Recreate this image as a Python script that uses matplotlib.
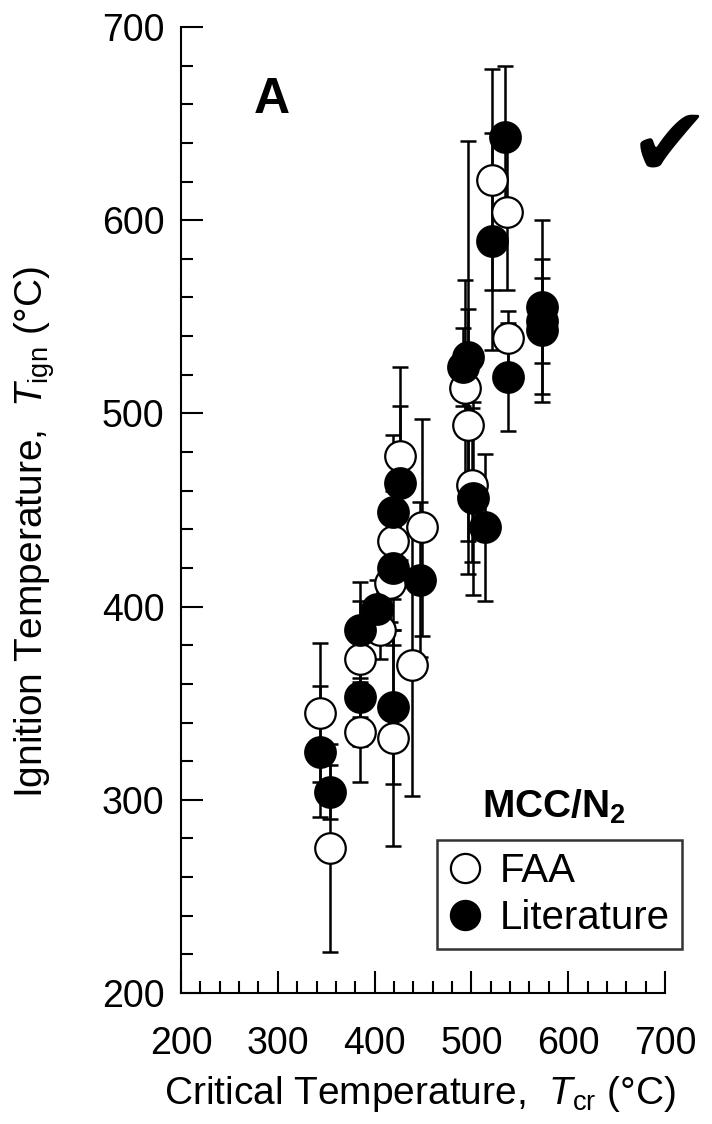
import matplotlib
matplotlib.use("Agg")
import matplotlib.pyplot as plt
from matplotlib.lines import Line2D
from matplotlib.ticker import MultipleLocator

plt.rcParams['font.family'] = ['Liberation Sans', 'DejaVu Sans']
plt.rcParams['mathtext.fontset'] = 'custom'
plt.rcParams['mathtext.rm'] = 'Liberation Sans'
plt.rcParams['mathtext.it'] = 'Liberation Sans:italic'
plt.rcParams['mathtext.bf'] = 'Liberation Sans:bold'

# FAA measurements: critical temperature, ignition temperature, error
faa_tcr = [344, 354, 385, 385, 406, 419, 439, 449, 426, 419, 416, 493, 496, 501, 521, 537, 538]
faa_tign = [345, 275, 373, 335, 388, 332, 370, 441, 478, 434, 412, 513, 494, 463, 621, 604, 539]
faa_err = [36, 54, 30, 26, 15, 56, 68, 56, 46, 30, 20, 56, 60, 40, 57, 40, 14]

# Literature values
lit_tcr = [344, 354, 385, 385, 402, 419, 419, 419, 426, 447, 491, 497, 502, 514, 521, 535, 538, 573, 573, 573]
lit_tign = [325, 304, 388, 353, 399, 348, 420, 449, 464, 414, 524, 529, 456, 441, 589, 643, 519, 555, 548, 543]
lit_err = [34, 14, 25, 25, 15, 40, 40, 40, 40, 40, 20, 112, 50, 38, 56, 37, 28, 45, 22, 37]

fig = plt.figure(figsize=(7.12, 11.24), dpi=100)
ax = fig.add_axes([0.2542, 0.1165, 0.6798, 0.8595])

ms = 22
ew = 1.6
eb = dict(ecolor='black', elinewidth=1.8, capsize=5.5, capthick=1.8, linestyle='none')

ax.errorbar(faa_tcr, faa_tign, yerr=faa_err, zorder=2, **eb)
ax.errorbar(lit_tcr, lit_tign, yerr=lit_err, zorder=2, **eb)

ax.plot(faa_tcr, faa_tign, 'o', ms=ms, mfc='white', mec='black', mew=ew, zorder=3)
ax.plot(lit_tcr, lit_tign, 'o', ms=ms, mfc='black', mec='black', mew=ew, zorder=4)

ax.set_xlim(200, 700)
ax.set_ylim(200, 700)
ax.xaxis.set_major_locator(MultipleLocator(100))
ax.xaxis.set_minor_locator(MultipleLocator(20))
ax.yaxis.set_major_locator(MultipleLocator(100))
ax.yaxis.set_minor_locator(MultipleLocator(20))
for s in ['top', 'right']:
    ax.spines[s].set_visible(False)
for s in ['left', 'bottom']:
    ax.spines[s].set_linewidth(1.5)
ax.tick_params(which='both', direction='in', width=1.5, labelsize=27)
ax.tick_params(which='major', length=16)
ax.tick_params(which='minor', length=8.5)
ax.tick_params(axis='x', pad=24)
ax.tick_params(axis='y', pad=12)

ax.set_xlabel(r'Critical Temperature,  $\mathit{T}_{\rm cr}$ (°C)', fontsize=28)
ax.set_ylabel(r'Ignition Temperature,  $\mathit{T}_{\rm ign}$ (°C)', fontsize=28)
ax.xaxis.set_label_coords(0.494, -0.084)
ax.yaxis.set_label_coords(-0.256, 0.477)

ax.text(0.188, 0.924, 'A', transform=ax.transAxes, fontsize=36, fontweight='bold',
        ha='center', va='center')
fig.text(0.94, 0.867, '\u2714', fontsize=70, ha='center', va='center',
         family=['DejaVu Sans'])

fig.text(0.778, 0.282, r'MCC/N$_\mathbf{2}$', fontsize=28, fontweight='bold',
         ha='center', va='center')

handles = [Line2D([], [], marker='o', ls='none', ms=21, mfc='white', mec='black', mew=1.6),
           Line2D([], [], marker='o', ls='none', ms=21, mfc='black', mec='black', mew=1.6)]
leg = fig.legend(handles, ['FAA', 'Literature'], loc='upper left',
                 bbox_to_anchor=(0.614, 0.2527), fontsize=29, frameon=True,
                 fancybox=False, edgecolor='black', handlelength=0.8,
                 handletextpad=0.45, borderpad=0.3, labelspacing=0.22,
                 borderaxespad=0)
leg.get_frame().set_linewidth(1.8)

fig.savefig('out.png', dpi=100, facecolor='white')
